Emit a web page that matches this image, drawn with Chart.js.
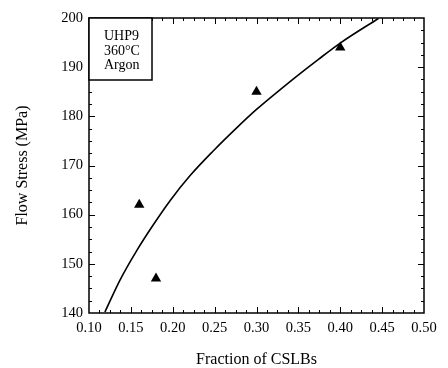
<!DOCTYPE html>
<html>
<head>
<meta charset="utf-8">
<script src="https://cdn.jsdelivr.net/npm/chart.js@4/dist/chart.umd.min.js"></script>
<style>
  html, body { margin: 0; padding: 0; background: #fff; }
  #wrap { width: 448px; height: 368px; }
</style>
</head>
<body>
<div id="wrap"><canvas id="chart" width="448" height="368"></canvas></div>
<script>
// Medidas: fracción de CSLBs frente a tensión de fluencia
const fraction = [0.16, 0.18, 0.30, 0.40];
const flowStress = [162, 147, 185, 194];

// Curva de ajuste
const fitFraction = [0.119, 0.137, 0.157, 0.177, 0.197, 0.221, 0.248, 0.276, 0.300, 0.328, 0.352, 0.374, 0.400, 0.4455];
const fitStress = [140.2, 146.7, 152.7, 158.0, 162.9, 168.0, 172.9, 177.6, 181.4, 185.4, 188.7, 191.6, 194.9, 199.9];

// Ejes
const xTicks = ['0.10', '0.15', '0.20', '0.25', '0.30', '0.35', '0.40', '0.45', '0.50'];
const yTicks = ['140', '150', '160', '170', '180', '190', '200'];
const xMinorStep = 0.0125;
const yMinorStep = 2.5;

// Texto del recuadro
const boxLines = ['UHP9', '360°C', 'Argon'];

const serif = "'Liberation Serif', 'Times New Roman', serif";

const xMin = parseFloat(xTicks[0]);
const xMax = parseFloat(xTicks[xTicks.length - 1]);
const yMin = parseFloat(yTicks[0]);
const yMax = parseFloat(yTicks[yTicks.length - 1]);

// Marco con marcas hacia dentro en los cuatro lados + recuadro de texto
const frameTicks = {
    id: 'frameTicks',
    afterDraw(chart) {
        const { ctx, chartArea: a, scales: { x, y } } = chart;
        ctx.save();
        ctx.strokeStyle = '#000';
        ctx.lineWidth = 1.5;
        ctx.strokeRect(a.left, a.top, a.right - a.left, a.bottom - a.top);

        ctx.lineWidth = 1;
        ctx.beginPath();
        const nx = Math.round((xMax - xMin) / xMinorStep);
        for (let i = 1; i < nx; i++) {
            const px = Math.round(x.getPixelForValue(xMin + i * xMinorStep)) + 0.5;
            const len = i % 4 === 0 ? 6 : 3;
            ctx.moveTo(px, a.bottom); ctx.lineTo(px, a.bottom - len);
            ctx.moveTo(px, a.top); ctx.lineTo(px, a.top + len);
        }
        const ny = Math.round((yMax - yMin) / yMinorStep);
        for (let i = 1; i < ny; i++) {
            const py = Math.round(y.getPixelForValue(yMin + i * yMinorStep)) + 0.5;
            const len = i % 4 === 0 ? 6 : 3;
            ctx.moveTo(a.left, py); ctx.lineTo(a.left + len, py);
            ctx.moveTo(a.right, py); ctx.lineTo(a.right - len, py);
        }
        ctx.stroke();

        // recuadro
        const bw = 63, bh = 62;
        ctx.fillStyle = '#fff';
        ctx.fillRect(a.left, a.top, bw, bh);
        ctx.lineWidth = 1.5;
        ctx.strokeRect(a.left, a.top, bw, bh);
        ctx.fillStyle = '#000';
        ctx.font = '14px ' + serif;
        ctx.textAlign = 'left';
        ctx.textBaseline = 'alphabetic';
        boxLines.forEach((t, i) => ctx.fillText(t, a.left + 15, a.top + 22 + i * 14.7));
        ctx.restore();
    }
};

const ctx = document.getElementById('chart').getContext('2d');
new Chart(ctx, {
    type: 'line',
    data: {
        datasets: [
            {
                label: 'ajuste',
                data: fitFraction.map((v, i) => ({ x: v, y: fitStress[i] })),
                borderColor: '#000',
                borderWidth: 1.6,
                pointRadius: 0,
                cubicInterpolationMode: 'monotone',
                fill: false,
                order: 2
            },
            {
                label: 'medidas',
                data: fraction.map((v, i) => ({ x: v, y: flowStress[i] })),
                showLine: false,
                pointStyle: 'triangle',
                pointRadius: 6,
                backgroundColor: '#000',
                borderColor: '#000',
                borderWidth: 0,
                order: 1
            }
        ]
    },
    options: {
        responsive: false,
        animation: false,
        events: [],
        layout: { padding: { left: 0, right: 24, top: 18, bottom: 0 } },
        plugins: { legend: { display: false }, tooltip: { enabled: false } },
        scales: {
            x: {
                type: 'linear',
                min: xMin,
                max: xMax,
                grid: { display: false, drawTicks: false },
                border: { display: false },
                ticks: {
                    stepSize: 0.05,
                    color: '#000',
                    padding: 6,
                    maxRotation: 0,
                    font: { family: serif, size: 14.5 },
                    callback: (v) => v.toFixed(2)
                },
                title: {
                    display: true,
                    text: 'Fraction of CSLBs',
                    color: '#000',
                    font: { family: serif, size: 16 },
                    padding: { top: 0, bottom: -1 }
                },
                afterFit(scale) { scale.height = 55; }
            },
            y: {
                type: 'linear',
                min: yMin,
                max: yMax,
                grid: { display: false, drawTicks: false },
                border: { display: false },
                ticks: {
                    stepSize: 10,
                    color: '#000',
                    padding: 6,
                    font: { family: serif, size: 14.5 }
                },
                title: {
                    display: true,
                    text: 'Flow Stress (MPa)',
                    color: '#000',
                    font: { family: serif, size: 16 },
                    padding: { top: 13, bottom: 0 }
                },
                afterFit(scale) { scale.width = 89; }
            }
        }
    },
    plugins: [frameTicks]
});
</script>
</body>
</html>
